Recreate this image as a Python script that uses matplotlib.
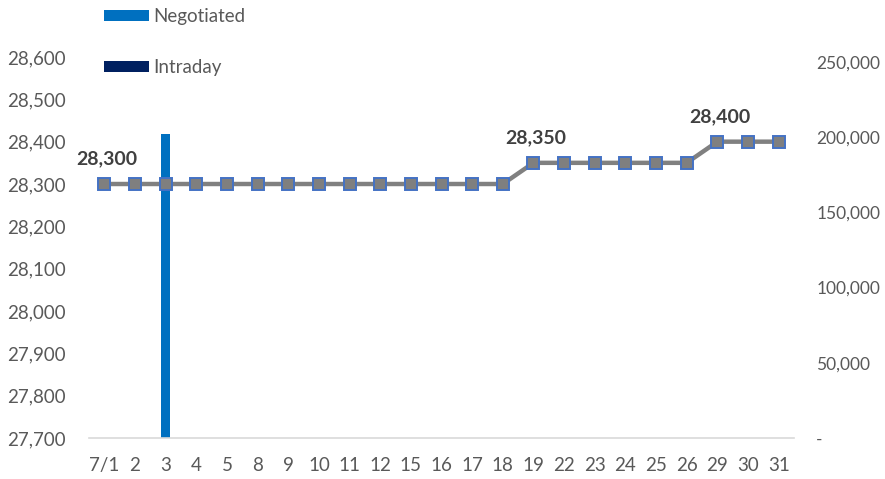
import matplotlib.pyplot as plt
import numpy as np
from matplotlib.ticker import FuncFormatter

plt.rcParams['font.family'] = ['Lato', 'DejaVu Sans']

days = ['7/1', '2', '3', '4', '5', '8', '9', '10', '11', '12', '15', '16', '17', '18',
        '19', '22', '23', '24', '25', '26', '29', '30', '31']
price = [28300] * 14 + [28350] * 6 + [28400] * 3
negotiated = [0, 0, 202000] + [0] * 20
intraday = [0] * 23
labelled = {0: '28,300', 14: '28,350', 20: '28,400'}

fig = plt.figure(figsize=(8.85, 4.79), dpi=100)
ax = fig.add_axes([89 / 885, 41 / 479, 705 / 885, 398 / 479])
ax2 = ax.twinx()

x = np.arange(len(days))
ax2.bar(x, negotiated, width=0.3, color='#0070C0', label='Negotiated', zorder=1)
ax2.bar(x, intraday, width=0.3, color='#002060', label='Intraday', zorder=1)

# line on top of bars
ax.set_zorder(ax2.get_zorder() + 1)
ax.patch.set_visible(False)
ax.plot(x, price, color='#808080', linewidth=3.2, marker='s', markersize=9,
        markerfacecolor='#7F7F7F', markeredgecolor='#4472C4', markeredgewidth=1.4)
for i, txt in labelled.items():
    ax.annotate(txt, (x[i], price[i]), xytext=(2, 12), textcoords='offset points',
                ha='center', va='bottom', fontsize=14, fontweight='bold', color='#404040')

ax.set_xlim(-0.5, len(days) - 0.5)
ax.set_ylim(27700, 27700 + 398 / 0.42333)
ax.set_yticks(np.arange(27700, 28601, 100))
ax.yaxis.set_major_formatter(FuncFormatter(lambda v, p: f'{v:,.0f}'))
ax.set_xticks(x)
ax.set_xticklabels(days)

ax2.set_ylim(0, 398 / 0.001504)
ax2.set_yticks(np.arange(0, 250001, 50000))
ax2.yaxis.set_major_formatter(FuncFormatter(lambda v, p: '-' if v == 0 else f'{v:,.0f}'))

for a in (ax, ax2):
    for s in a.spines.values():
        s.set_visible(False)
    a.tick_params(length=0, labelsize=13.5, colors='#595959')
ax.spines['bottom'].set_visible(True)
ax.spines['bottom'].set_color('#D9D9D9')
ax.spines['bottom'].set_linewidth(1.2)
ax.tick_params(axis='y', pad=17)
ax.tick_params(axis='x', pad=14)
ax2.tick_params(axis='y', pad=16, labelsize=12.5)

fig.legend(*ax2.get_legend_handles_labels(), loc='upper left', bbox_to_anchor=(87 / 885, 1.018),
           frameon=False, fontsize=13.5, labelspacing=1.8, handlelength=2.4, handleheight=0.5,
           handletextpad=0.25, labelcolor='#595959')

fig.savefig('out.png', dpi=100)
